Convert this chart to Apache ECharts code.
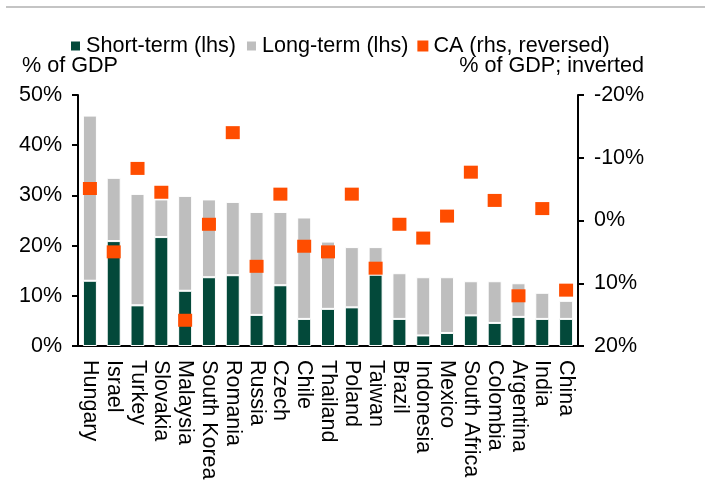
<!DOCTYPE html>
<html>
<head>
<meta charset="utf-8">
<script src="https://cdn.jsdelivr.net/npm/echarts@6/dist/echarts.min.js"></script>
<style>
  html, body { margin: 0; padding: 0; background: #fff; }
  #chart { width: 705px; height: 492px; }
</style>
</head>
<body>
<div id="chart"></div>
<script>
// countries, left to right
var countries = ['Hungary', 'Israel', 'Turkey', 'Slovakia', 'Malaysia', 'South Korea', 'Romania',
  'Russia', 'Czech', 'Chile', 'Thailand', 'Poland', 'Taiwan', 'Brazil', 'Indonesia', 'Mexico',
  'South Africa', 'Colombia', 'Argentina', 'India', 'China'];

// external debt, % of GDP (lhs)
var shortTerm = [13.0, 20.9, 8.1, 21.7, 11.0, 13.7, 14.1, 6.2, 12.1, 5.4, 7.4, 7.7, 14.2, 5.4, 2.1, 2.6, 6.1, 4.6, 5.8, 5.4, 5.4];
var longTerm = [32.9, 12.6, 22.2, 7.5, 18.9, 15.5, 14.6, 20.5, 14.6, 20.2, 13.4, 12.0, 5.5, 9.1, 11.6, 11.1, 6.8, 8.3, 6.7, 5.2, 3.6];

// current account, % of GDP (rhs, reversed)
var currentAccount = [-5.1, 5.0, -8.3, -4.5, 15.9, 0.6, -14.0, 7.3, -4.2, 4.1, 5.0, -4.2, 7.6, 0.6, 2.8, -0.7, -7.7, -3.2, 12.0, -1.9, 11.1];

var fontFam = 'Liberation Sans, Arial, sans-serif';
var chart = echarts.init(document.getElementById('chart'));

chart.setOption({
  animation: false,
  color: ['#03493a', '#bebebe', '#ff4d00'],
  textStyle: { fontFamily: fontFam, color: '#000' },
  grid: { left: 78, right: 127, top: 95, bottom: 146 },
  legend: {
    left: 64,
    top: 30,
    icon: 'rect',
    itemWidth: 11,
    itemHeight: 11,
    itemGap: 9,
    textStyle: { fontSize: 21.6, color: '#000', fontFamily: fontFam },
    data: ['Short-term (lhs)', 'Long-term (lhs)', 'CA (rhs, reversed)']
  },
  graphic: [
    { type: 'line', shape: { x1: 6, y1: 7, x2: 705, y2: 7 }, style: { stroke: '#c4c4c4', lineWidth: 2 } },
    { type: 'text', left: 22, top: 55, style: { text: '% of GDP', fontSize: 21.6, fontFamily: fontFam, fill: '#000' } },
    { type: 'text', right: 61, top: 55, style: { text: '% of GDP; inverted', fontSize: 21.6, fontFamily: fontFam, fill: '#000' } }
  ],
  xAxis: {
    type: 'category',
    data: countries,
    axisLine: { lineStyle: { color: '#000', width: 2 } },
    axisTick: { length: 6, lineStyle: { color: '#000', width: 2 } },
    axisLabel: { rotate: -90, interval: 0, margin: 14, fontSize: 21.5, color: '#000', fontFamily: fontFam }
  },
  yAxis: [
    {
      type: 'value',
      min: 0, max: 50, interval: 10,
      splitLine: { show: false },
      axisLine: { show: true, lineStyle: { color: '#000', width: 2 } },
      axisTick: { show: true, length: 6, lineStyle: { color: '#000', width: 2 } },
      axisLabel: { margin: 16, fontSize: 21.5, color: '#000', fontFamily: fontFam, formatter: '{value}%' }
    },
    {
      type: 'value',
      inverse: true,
      min: -20, max: 20, interval: 10,
      splitLine: { show: false },
      axisLine: { show: true, lineStyle: { color: '#000', width: 2 } },
      axisTick: { show: true, length: 6, lineStyle: { color: '#000', width: 2 } },
      axisLabel: { margin: 16, fontSize: 21.5, color: '#000', fontFamily: fontFam, formatter: '{value}%' }
    }
  ],
  series: [
    {
      name: 'Short-term (lhs)',
      type: 'bar',
      stack: 'debt',
      barWidth: 14,
      itemStyle: { borderColor: '#fff', borderWidth: 1 },
      data: shortTerm
    },
    {
      name: 'Long-term (lhs)',
      type: 'bar',
      stack: 'debt',
      barWidth: 14,
      itemStyle: { borderColor: '#fff', borderWidth: 1 },
      data: longTerm
    },
    {
      name: 'CA (rhs, reversed)',
      type: 'scatter',
      yAxisIndex: 1,
      symbol: 'rect',
      symbolSize: [14, 13],
      z: 5,
      itemStyle: { opacity: 1 },
      data: currentAccount
    }
  ]
});
</script>
</body>
</html>
